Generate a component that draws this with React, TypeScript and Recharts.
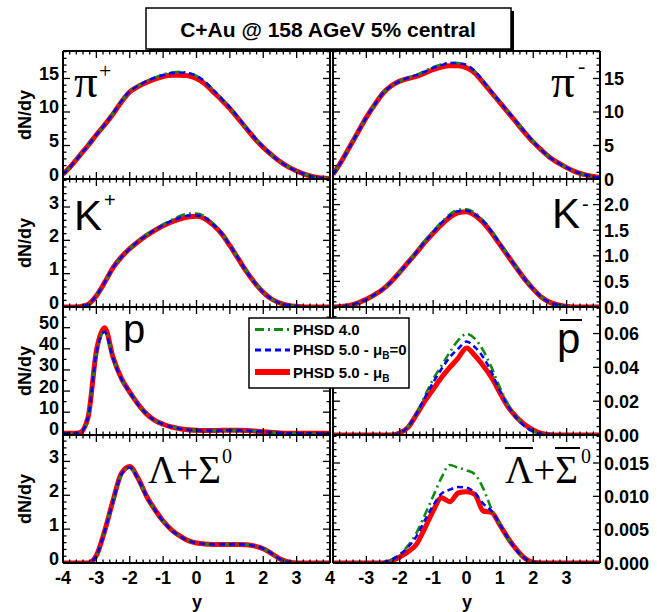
import React from "react";
import { LineChart, Line, XAxis, YAxis } from "recharts";

const W = 657;
const H = 612;

// rapidity bins shared by every panel
const RAPIDITY = [-4, -3.75, -3.5, -3.25, -3, -2.75, -2.5, -2.25, -2, -1.75, -1.5, -1.25, -1, -0.75, -0.5, -0.25, 0, 0.25, 0.5, 0.75, 1, 1.25, 1.5, 1.75, 2, 2.25, 2.5, 2.75, 3, 3.25, 3.5, 3.75, 4];

// pi+
const PIP_V40 = [0.7, 2.0, 3.5, 5.0, 6.6, 8.1, 9.8, 11.6, 13.1, 13.9, 14.6, 15.1, 15.6, 15.9, 16.0, 15.8, 15.4, 14.5, 13.3, 12.0, 10.6, 9.1, 7.6, 6.1, 4.8, 3.6, 2.6, 1.8, 1.2, 0.7, 0.35, 0.15, 0.05];
const PIP_MU0 = [0.7, 2.0, 3.5, 5.0, 6.6, 8.1, 9.8, 11.6, 13.1, 13.9, 14.6, 15.1, 15.5, 15.8, 15.9, 15.8, 15.4, 14.5, 13.3, 12.0, 10.7, 9.2, 7.6, 6.1, 4.8, 3.6, 2.6, 1.8, 1.2, 0.7, 0.35, 0.15, 0.05];
const PIP_MUB = [0.7, 2.0, 3.5, 5.0, 6.6, 8.1, 9.7, 11.5, 13.0, 13.8, 14.4, 14.9, 15.3, 15.5, 15.5, 15.4, 15.0, 14.2, 13.0, 11.8, 10.5, 9.0, 7.5, 6.0, 4.7, 3.6, 2.6, 1.8, 1.2, 0.7, 0.35, 0.15, 0.05];
// pi-
const PIM_V40 = [0.7, 2.6, 4.8, 7.0, 9.2, 11.1, 12.8, 13.9, 14.6, 15.1, 15.5, 16.1, 16.7, 17.1, 17.3, 17.3, 17.0, 16.1, 14.6, 13.0, 11.5, 10.0, 8.5, 7.0, 5.6, 4.3, 3.2, 2.4, 1.7, 1.1, 0.7, 0.4, 0.2];
const PIM_MU0 = [0.7, 2.6, 4.8, 7.0, 9.2, 11.1, 12.8, 13.9, 14.6, 15.1, 15.5, 16.0, 16.6, 17.0, 17.3, 17.3, 17.0, 16.1, 14.6, 13.0, 11.5, 10.0, 8.5, 7.0, 5.6, 4.3, 3.2, 2.4, 1.7, 1.1, 0.7, 0.4, 0.2];
const PIM_MUB = [0.7, 2.6, 4.8, 7.0, 9.2, 11.1, 12.8, 13.9, 14.6, 15.0, 15.3, 15.8, 16.3, 16.7, 16.9, 16.9, 16.6, 15.8, 14.4, 12.9, 11.4, 9.9, 8.4, 6.9, 5.5, 4.3, 3.2, 2.4, 1.7, 1.1, 0.7, 0.4, 0.2];
// K+
const KP_V40 = [0, 0, 0.01, 0.08, 0.34, 0.74, 1.18, 1.5, 1.76, 1.98, 2.17, 2.33, 2.48, 2.61, 2.73, 2.8, 2.8, 2.72, 2.5, 2.23, 1.86, 1.46, 1.07, 0.73, 0.45, 0.24, 0.12, 0.05, 0.02, 0, 0, 0, 0];
const KP_MU0 = [0, 0, 0.01, 0.08, 0.34, 0.74, 1.18, 1.5, 1.75, 1.97, 2.15, 2.31, 2.45, 2.58, 2.68, 2.74, 2.75, 2.68, 2.48, 2.21, 1.85, 1.46, 1.06, 0.72, 0.44, 0.24, 0.12, 0.05, 0.02, 0, 0, 0, 0];
const KP_MUB = [0, 0, 0.01, 0.08, 0.34, 0.74, 1.18, 1.5, 1.75, 1.96, 2.14, 2.3, 2.44, 2.55, 2.64, 2.7, 2.72, 2.65, 2.46, 2.2, 1.84, 1.45, 1.06, 0.72, 0.44, 0.24, 0.12, 0.05, 0.02, 0, 0, 0, 0];
// K-
const KM_V40 = [0, 0.01, 0.03, 0.08, 0.15, 0.24, 0.35, 0.5, 0.68, 0.88, 1.08, 1.29, 1.48, 1.66, 1.81, 1.9, 1.91, 1.84, 1.69, 1.49, 1.25, 1.01, 0.77, 0.55, 0.35, 0.19, 0.09, 0.04, 0.01, 0, 0, 0, 0];
const KM_MU0 = [0, 0.01, 0.03, 0.08, 0.15, 0.24, 0.35, 0.5, 0.68, 0.87, 1.07, 1.27, 1.46, 1.64, 1.78, 1.87, 1.88, 1.81, 1.67, 1.47, 1.23, 1.0, 0.76, 0.54, 0.35, 0.19, 0.09, 0.04, 0.01, 0, 0, 0, 0];
const KM_MUB = [0, 0.01, 0.03, 0.08, 0.15, 0.24, 0.35, 0.5, 0.68, 0.87, 1.06, 1.26, 1.44, 1.61, 1.75, 1.84, 1.86, 1.79, 1.65, 1.45, 1.22, 0.99, 0.76, 0.54, 0.35, 0.19, 0.09, 0.04, 0.01, 0, 0, 0, 0];
// protons
const P_V40 = [0, 0, 0.3, 7.4, 38, 48.2, 35.5, 25.8, 19.4, 13.7, 9.2, 6.1, 4.3, 3.0, 2.2, 1.7, 1.4, 1.3, 1.3, 1.4, 1.4, 1.4, 1.3, 1.1, 0.8, 0.5, 0.2, 0.05, 0, 0, 0, 0, 0];
const P_MU0 = [0, 0, 0.3, 7.4, 38, 48, 35.5, 25.8, 19.4, 13.7, 9.2, 6.1, 4.3, 3.0, 2.2, 1.7, 1.4, 1.3, 1.3, 1.4, 1.4, 1.4, 1.3, 1.1, 0.8, 0.5, 0.2, 0.05, 0, 0, 0, 0, 0];
const P_MUB = [0, 0, 0.3, 7.5, 39, 50, 36, 26, 19.5, 13.8, 9.2, 6.1, 4.3, 3.0, 2.2, 1.7, 1.4, 1.3, 1.3, 1.4, 1.4, 1.4, 1.3, 1.1, 0.8, 0.5, 0.2, 0.05, 0, 0, 0, 0, 0];
// antiprotons
const PBAR_V40 = [0, 0, 0, 0, 0, 0, 0, 0, 0.0012, 0.005, 0.0125, 0.023, 0.033, 0.041, 0.049, 0.056, 0.0598, 0.057, 0.05, 0.04, 0.028, 0.018, 0.0105, 0.0055, 0.0022, 0.0006, 0.0001, 0, 0, 0, 0, 0, 0];
const PBAR_MU0 = [0, 0, 0, 0, 0, 0, 0, 0, 0.0012, 0.005, 0.0125, 0.022, 0.031, 0.039, 0.046, 0.051, 0.0552, 0.052, 0.046, 0.037, 0.026, 0.017, 0.01, 0.005, 0.002, 0.0006, 0.0001, 0, 0, 0, 0, 0, 0];
const PBAR_MUB = [0, 0, 0, 0, 0, 0, 0, 0, 0.0012, 0.0045, 0.012, 0.02, 0.027, 0.034, 0.04, 0.0455, 0.0515, 0.047, 0.041, 0.034, 0.025, 0.0165, 0.0105, 0.006, 0.003, 0.001, 0.0002, 0, 0, 0, 0, 0, 0];
// Lambda + Sigma0
const LAM_V40 = [0, 0, 0, 0, 0.22, 0.94, 1.83, 2.62, 2.82, 2.48, 1.97, 1.57, 1.23, 0.97, 0.79, 0.66, 0.59, 0.56, 0.55, 0.55, 0.55, 0.55, 0.54, 0.5, 0.42, 0.28, 0.12, 0.03, 0, 0, 0, 0, 0];
const LAM_MU0 = [0, 0, 0, 0, 0.22, 0.94, 1.83, 2.62, 2.82, 2.48, 1.97, 1.57, 1.23, 0.97, 0.79, 0.66, 0.59, 0.56, 0.55, 0.55, 0.55, 0.55, 0.54, 0.5, 0.42, 0.28, 0.12, 0.03, 0, 0, 0, 0, 0];
const LAM_MUB = [0, 0, 0, 0, 0.22, 0.95, 1.85, 2.65, 2.85, 2.5, 1.98, 1.58, 1.24, 0.98, 0.8, 0.66, 0.59, 0.56, 0.55, 0.55, 0.55, 0.55, 0.54, 0.5, 0.42, 0.28, 0.12, 0.03, 0, 0, 0, 0, 0];
// anti-Lambda + anti-Sigma0
const ALAM_V40 = [0, 0, 0, 0, 0, 0, 0.0001, 0.0005, 0.0013, 0.0026, 0.0045, 0.0072, 0.01, 0.0128, 0.0147, 0.0143, 0.0139, 0.0133, 0.0112, 0.0081, 0.0058, 0.0036, 0.0018, 0.0007, 0.0001, 0, 0, 0, 0, 0, 0, 0, 0];
const ALAM_MU0 = [0, 0, 0, 0, 0, 0, 0.0001, 0.0005, 0.0012, 0.0024, 0.004, 0.0064, 0.0086, 0.0104, 0.011, 0.0114, 0.0113, 0.0105, 0.0089, 0.0078, 0.0058, 0.0037, 0.0019, 0.0007, 0.0001, 0, 0, 0, 0, 0, 0, 0, 0];
const ALAM_MUB = [0, 0, 0, 0, 0, 0, 0, 0.0003, 0.0009, 0.0017, 0.0028, 0.0052, 0.0078, 0.0098, 0.0092, 0.0105, 0.0107, 0.0103, 0.0078, 0.0076, 0.0057, 0.0037, 0.002, 0.0007, 0.0001, 0, 0, 0, 0, 0, 0, 0, 0];

const X_LABELS_LEFT = ["-4", "-3", "-2", "-1", "0", "1", "2", "3", "4"];
const X_LABELS_RIGHT = ["", "-3", "-2", "-1", "0", "1", "2", "3", ""];
const X_MAJORS = [-4, -3, -2, -1, 0, 1, 2, 3, 4];

const GREEN = "#138a13";
const BLUE = "#0000ff";
const RED = "#ff0000";
const SANS = "'Liberation Sans', Arial, sans-serif";
const SERIF = "'Liberation Serif', 'Times New Roman', serif";

const COL_X = [[63, 330], [333, 600]];
const ROW_TOP = [51, 179, 307, 435];
const ROW_H = 128;
const AX = 1; // axis band thickness (recharts skips axes of size 0)

function range(a: number, b: number, step: number) {
  const out: number[] = [];
  for (let v = a; v <= b + 1e-9; v += step) out.push(Math.round(v * 1e6) / 1e6);
  return out;
}

const X_TICKS = range(-4, 4, 0.2);

type PanelSpec = {
  col: number;
  row: number;
  domain: [number, number];
  majors: number[];
  labels: string[];
  minor: number;
  v40: number[];
  mu0: number[];
  mub: number[];
};

const PANELS: PanelSpec[] = [
  { col: 0, row: 0, domain: [0, 19.1], majors: [0, 5, 10, 15], labels: ["0", "5", "10", "15"], minor: 1, v40: PIP_V40, mu0: PIP_MU0, mub: PIP_MUB },
  { col: 1, row: 0, domain: [0, 19.1], majors: [0, 5, 10, 15], labels: ["0", "5", "10", "15"], minor: 1, v40: PIM_V40, mu0: PIM_MU0, mub: PIM_MUB },
  { col: 0, row: 1, domain: [0, 3.84], majors: [0, 1, 2, 3], labels: ["0", "1", "2", "3"], minor: 0.2, v40: KP_V40, mu0: KP_MU0, mub: KP_MUB },
  { col: 1, row: 1, domain: [0, 2.5], majors: [0, 0.5, 1, 1.5, 2], labels: ["0.0", "0.5", "1.0", "1.5", "2.0"], minor: 0.1, v40: KM_V40, mu0: KM_MU0, mub: KM_MUB },
  { col: 0, row: 2, domain: [-0.8, 59.8], majors: [0, 10, 20, 30, 40, 50], labels: ["0", "10", "20", "30", "40", "50"], minor: 5, v40: P_V40, mu0: P_MU0, mub: P_MUB },
  { col: 1, row: 2, domain: [0, 0.0757], majors: [0, 0.02, 0.04, 0.06], labels: ["0.00", "0.02", "0.04", "0.06"], minor: 0.005, v40: PBAR_V40, mu0: PBAR_MU0, mub: PBAR_MUB },
  { col: 0, row: 3, domain: [0, 3.78], majors: [0, 1, 2, 3], labels: ["0", "1", "2", "3"], minor: 0.2, v40: LAM_V40, mu0: LAM_MU0, mub: LAM_MUB },
  { col: 1, row: 3, domain: [0, 0.0192], majors: [0, 0.005, 0.01, 0.015], labels: ["0.000", "0.005", "0.010", "0.015"], minor: 0.001, v40: ALAM_V40, mu0: ALAM_MU0, mub: ALAM_MUB },
];

const majorIndex = (majors: number[], v: number) => majors.findIndex((m) => Math.abs(m - v) < 1e-7);

const labelStyle = { fontFamily: SANS, fontWeight: 700, fontSize: 18, fill: "#000" } as const;

function makeXTick(side: "top" | "bottom", labels: string[] | null) {
  return (props: any) => {
    const { x, y, payload } = props;
    const mi = majorIndex(X_MAJORS, payload.value);
    const len = mi >= 0 ? 7 : 3.5;
    const dir = side === "bottom" ? -1 : 1;
    return (
      <g>
        <line x1={x} y1={y} x2={x} y2={y + dir * len} stroke="#000" strokeWidth={1.3} />
        {labels && mi >= 0 && labels[mi] && (
          <text x={x} y={y + 21} textAnchor="middle" {...labelStyle}>{labels[mi]}</text>
        )}
      </g>
    );
  };
}

function makeYTick(side: "left" | "right", majors: number[], labels: string[] | null) {
  return (props: any) => {
    const { x, y, payload } = props;
    const mi = majorIndex(majors, payload.value);
    const len = mi >= 0 ? 7 : 3.5;
    const dir = side === "left" ? 1 : -1;
    return (
      <g>
        <line x1={x} y1={y} x2={x + dir * len} y2={y} stroke="#000" strokeWidth={1.3} />
        {labels && mi >= 0 && (
          side === "left"
            ? <text x={x - 4} y={y + 1.5} textAnchor="end" {...labelStyle}>{labels[mi]}</text>
            : <text x={x + 4} y={y + 6.5} textAnchor="start" {...labelStyle}>{labels[mi]}</text>
        )}
      </g>
    );
  };
}

const FRAME = { stroke: "#000", strokeWidth: 2 };

function Panel({ spec }: { spec: PanelSpec }) {
  const [x0, x1] = COL_X[spec.col];
  const top = ROW_TOP[spec.row];
  const bottom = top + ROW_H;
  const data = RAPIDITY.map((y, i) => ({ y, v40: spec.v40[i], mu0: spec.mu0[i], mub: spec.mub[i] }));
  const yTicks = Array.from(new Set([...range(Math.max(spec.domain[0], 0), spec.domain[1], spec.minor), ...spec.majors])).sort((a, b) => a - b);
  const lastRow = spec.row === 3;
  const xLabels = lastRow ? (spec.col === 0 ? X_LABELS_LEFT : X_LABELS_RIGHT) : null;

  return (
    <div style={{ position: "absolute", left: 0, top: 0 }}>
      <LineChart width={W} height={H} data={data} margin={{ left: x0 - AX, right: W - x1 - AX, top: top - AX, bottom: H - bottom - AX }}>
        <XAxis xAxisId="b" dataKey="y" type="number" domain={[-4, 4]} ticks={X_TICKS} interval={0} allowDataOverflow height={AX} tickSize={0} tickMargin={0} tickLine={false} axisLine={FRAME} tick={makeXTick("bottom", xLabels)} />
        <XAxis xAxisId="t" orientation="top" dataKey="y" type="number" domain={[-4, 4]} ticks={X_TICKS} interval={0} allowDataOverflow height={AX} tickSize={0} tickMargin={0} tickLine={false} axisLine={FRAME} tick={makeXTick("top", null)} />
        <YAxis yAxisId="l" type="number" domain={spec.domain} ticks={yTicks} interval={0} allowDataOverflow width={AX} tickSize={0} tickMargin={0} tickLine={false} axisLine={FRAME} tick={makeYTick("left", spec.majors, spec.col === 0 ? spec.labels : null)} />
        <YAxis yAxisId="r" orientation="right" type="number" domain={spec.domain} ticks={yTicks} interval={0} allowDataOverflow width={AX} tickSize={0} tickMargin={0} tickLine={false} axisLine={FRAME} tick={makeYTick("right", spec.majors, spec.col === 1 ? spec.labels : null)} />
        <Line xAxisId="b" yAxisId="l" dataKey="mub" type="monotone" stroke={RED} strokeWidth={5} dot={false} isAnimationActive={false} />
        <Line xAxisId="b" yAxisId="l" dataKey="v40" type="monotone" stroke={GREEN} strokeWidth={2.6} strokeDasharray="9 4 2 4" dot={false} isAnimationActive={false} />
        <Line xAxisId="b" yAxisId="l" dataKey="mu0" type="monotone" stroke={BLUE} strokeWidth={2.6} strokeDasharray="6 4" dot={false} isAnimationActive={false} />
      </LineChart>
    </div>
  );
}

function Overlay() {
  const bold = { fontFamily: SANS, fontWeight: 700, fill: "#000" } as const;
  return (
    <svg width={W} height={H} style={{ position: "absolute", left: 0, top: 0 }}>
      {/* title box with shadow */}
      <rect x={149} y={11} width={365} height={41} fill="#000" />
      <rect x={146} y={8} width={365} height={41} fill="#fff" stroke="#000" strokeWidth={1.5} />
      <text x={328} y={37} textAnchor="middle" fontSize={21} {...bold}>C+Au @ 158 AGeV 5% central</text>

      {/* axis titles */}
      {ROW_TOP.map((t) => (
        <text key={t} x={31} y={t + ROW_H / 2} transform={`rotate(-90 31 ${t + ROW_H / 2})`} textAnchor="middle" fontSize={18} {...bold}>dN/dy</text>
      ))}
      <text x={197} y={608} textAnchor="middle" fontSize={18} {...bold}>y</text>
      <text x={467} y={608} textAnchor="middle" fontSize={18} {...bold}>y</text>

      {/* particle names */}
      <text x={74} y={97} fontFamily={SERIF} fontSize={47}>π</text>
      <text x={99} y={78} fontFamily={SERIF} fontSize={22}>+</text>
      <text x={551} y={97} fontFamily={SERIF} fontSize={47}>π</text>
      <text x={578} y={73} fontFamily={SERIF} fontSize={22}>-</text>

      <text x={74} y={230} fontFamily={SANS} fontSize={42}>K</text>
      <text x={104} y={207} fontFamily={SANS} fontSize={20}>+</text>
      <text x={552} y={228} fontFamily={SANS} fontSize={42}>K</text>
      <text x={582} y={211} fontFamily={SANS} fontSize={20}>-</text>

      <text x={123} y={343} fontFamily={SANS} fontSize={40}>p</text>
      <text x={557} y={353} fontFamily={SANS} fontSize={42}>p</text>
      <rect x={560} y={319} width={22} height={2} fill="#000" />

      <text x={148} y={483} fontFamily={SERIF} fontSize={39}>Λ+Σ</text>
      <text x={222} y={463} fontFamily={SERIF} fontSize={20}>0</text>
      <text x={505} y={483} fontFamily={SERIF} fontSize={39}>Λ+Σ</text>
      <text x={581} y={463} fontFamily={SERIF} fontSize={20}>0</text>
      <rect x={505} y={447} width={28} height={2} fill="#000" />
      <rect x={555} y={447} width={25} height={2} fill="#000" />

      {/* legend */}
      <rect x={249} y={318} width={160} height={70} fill="#fff" stroke="#000" strokeWidth={1.5} />
      <line x1={255} y1={329.5} x2={290} y2={329.5} stroke={GREEN} strokeWidth={3} strokeDasharray="9 4 2 4" />
      <line x1={255} y1={350} x2={290} y2={350} stroke={BLUE} strokeWidth={3} strokeDasharray="6 4" />
      <line x1={255} y1={372} x2={290} y2={372} stroke={RED} strokeWidth={6} />
      <text x={293} y={335} fontSize={15} {...bold}>PHSD 4.0</text>
      <text x={293} y={355} fontSize={15} {...bold}>
        PHSD 5.0 - μ<tspan fontSize={10} dy={4}>B</tspan><tspan dy={-4}>=0</tspan>
      </text>
      <text x={293} y={378} fontSize={15} {...bold}>
        PHSD 5.0 - μ<tspan fontSize={10} dy={4}>B</tspan>
      </text>
    </svg>
  );
}

export default function App() {
  return (
    <div style={{ position: "absolute", left: 0, top: 0, width: W, height: H, background: "#fff" }}>
      {PANELS.map((p, i) => (
        <Panel key={i} spec={p} />
      ))}
      <Overlay />
    </div>
  );
}
